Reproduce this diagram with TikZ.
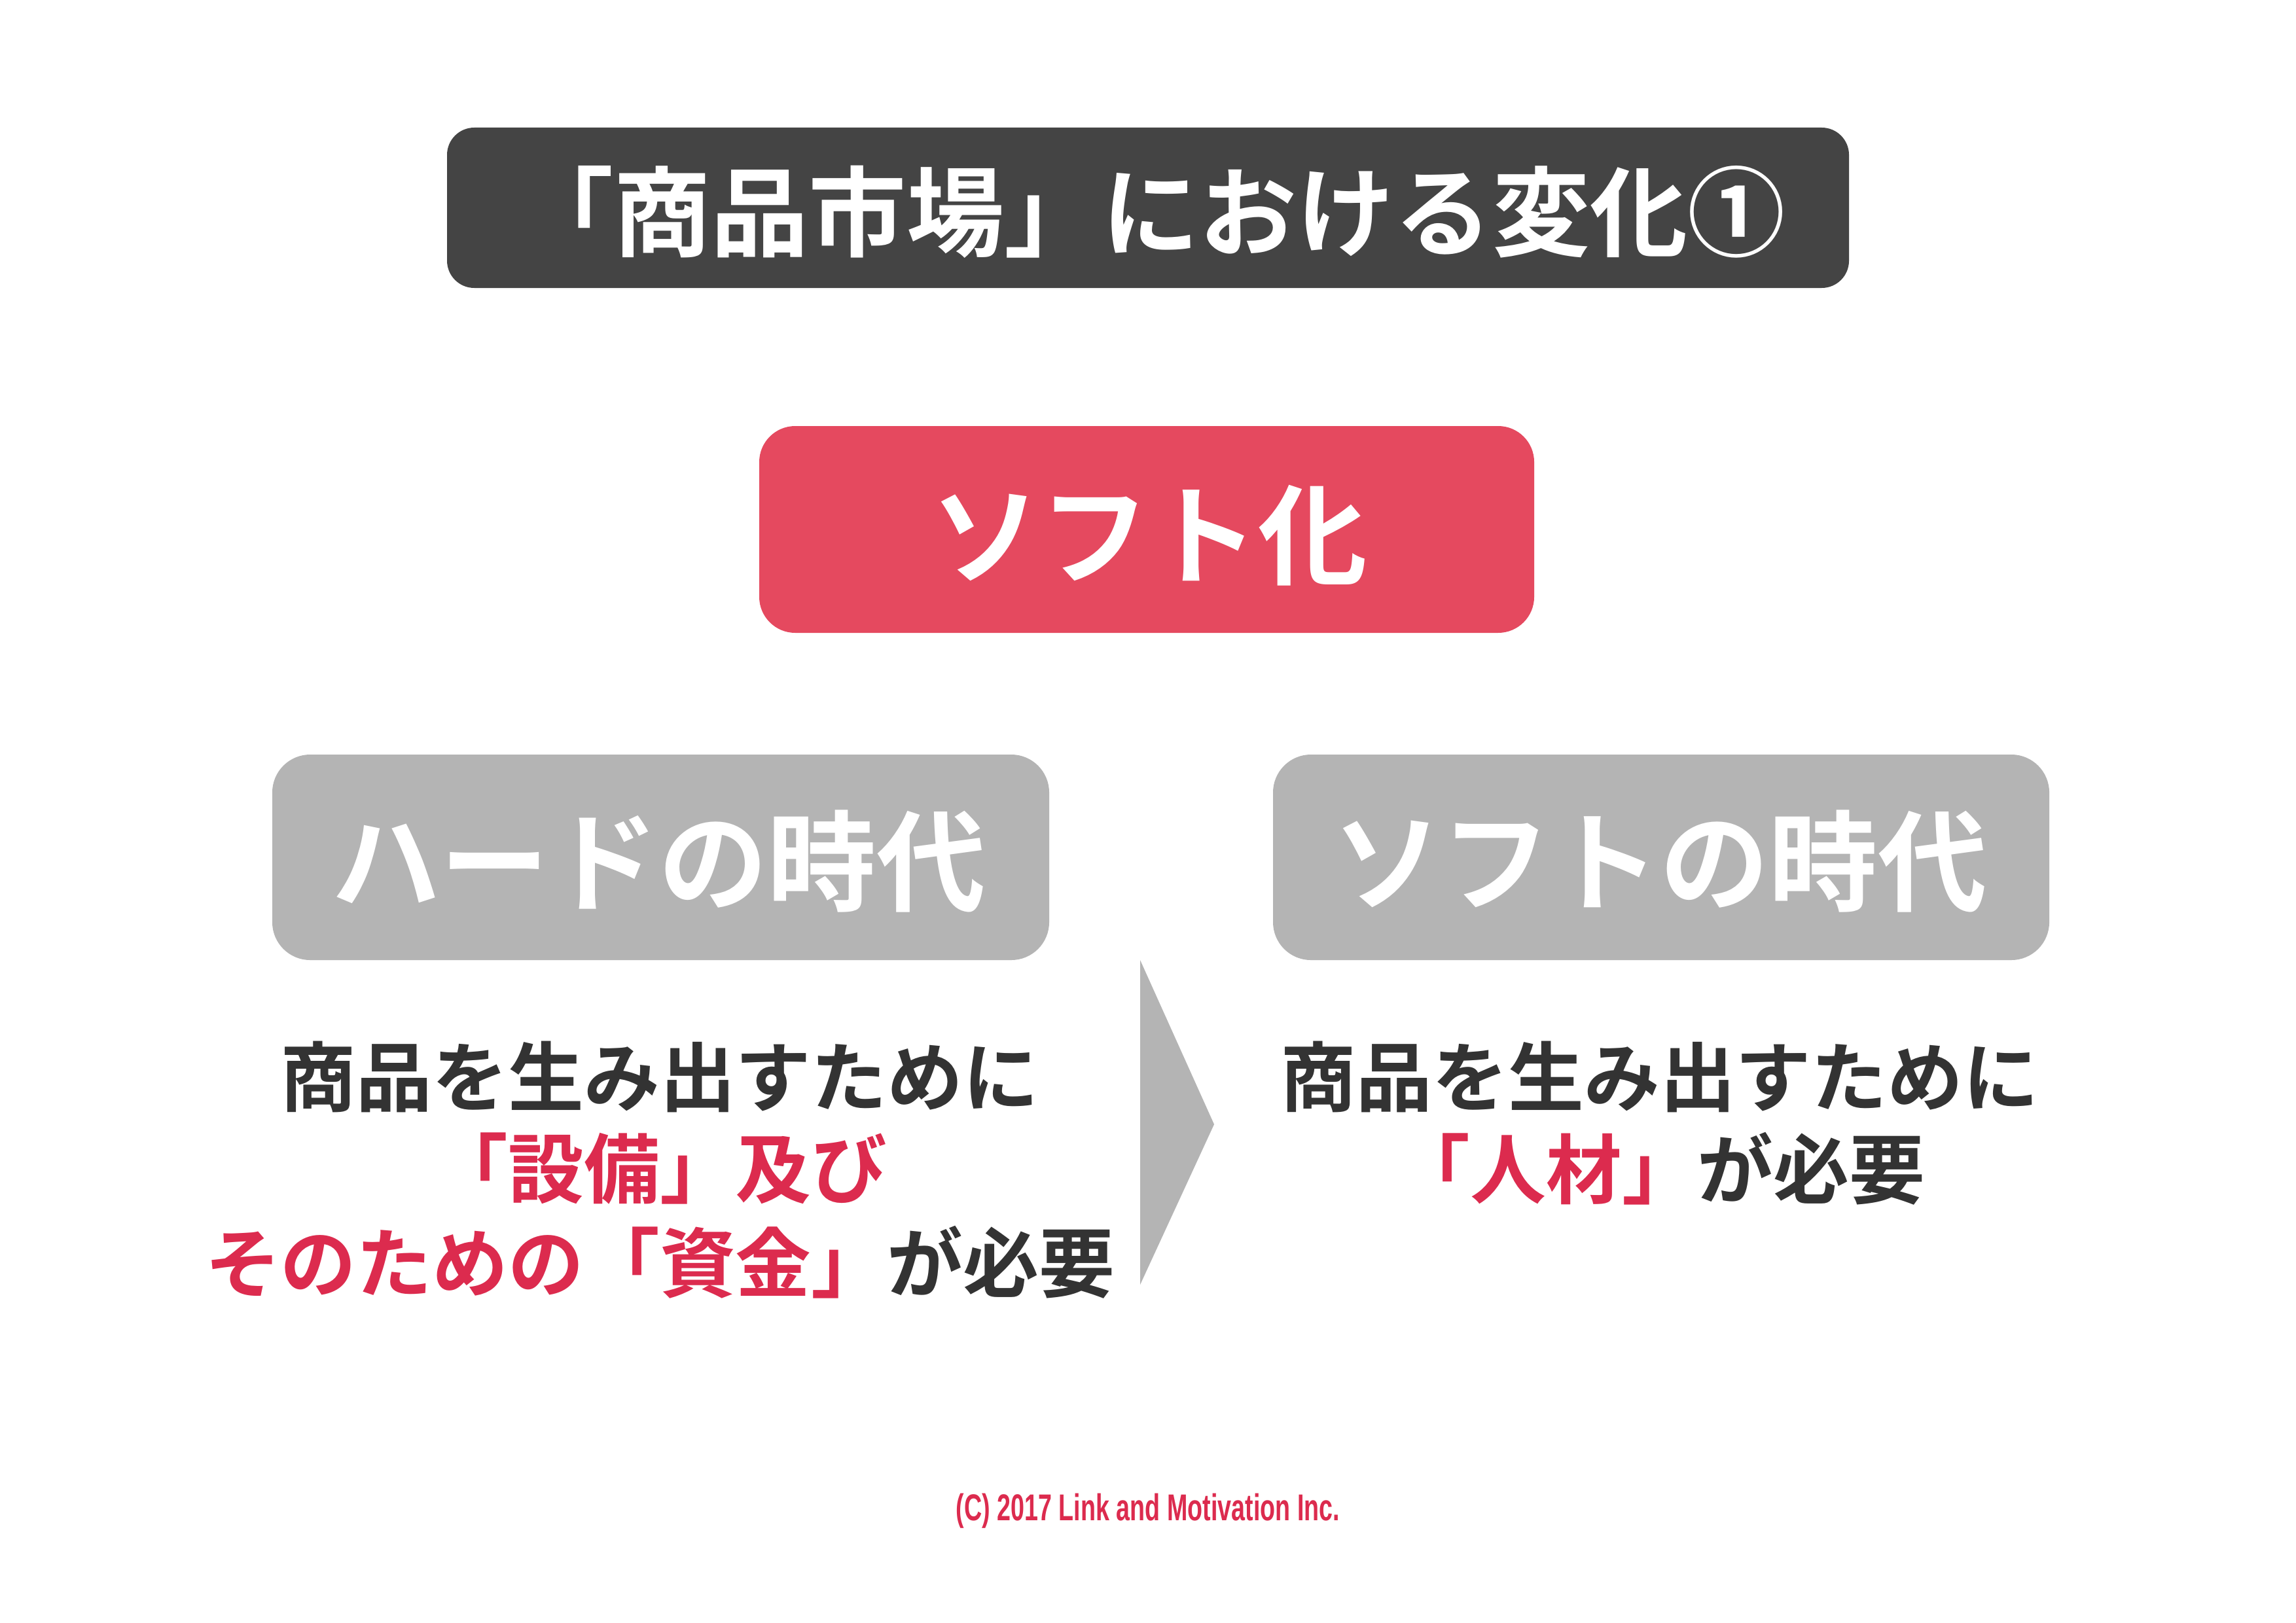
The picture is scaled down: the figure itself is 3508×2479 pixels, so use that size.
\documentclass[tikz,border=0pt]{standalone}
\usepackage{fontspec}
\setmainfont{Noto Sans CJK JP}
\newfontfamily\jpbold{Noto Sans CJK JP Bold}
\newfontfamily\cpfont[FakeStretch=0.66]{Liberation Sans Bold}
\definecolor{titlegray}{HTML}{444444}
\definecolor{boxred}{HTML}{E5495F}
\definecolor{boxgray}{HTML}{B4B4B4}
\definecolor{darktext}{HTML}{333333}
\definecolor{redtext}{HTML}{DC2B4E}
\tikzset{
  titlebox/.style={fill=titlegray, rounded corners=10pt},
  keybox/.style={fill=boxred, rounded corners=13.2pt},
  erabox/.style={fill=boxgray, rounded corners=13.9pt},
  titletext/.style={inner sep=0, text=white, font=\jpbold\fontsize{35.8}{40}\selectfont},
  labeltext/.style={inner sep=0, text=white, font=\jpbold\fontsize{40}{46}\selectfont},
  bodytext/.style={inner sep=0, text=darktext, font=\jpbold\fontsize{27.8}{32}\selectfont},
  copytext/.style={inner sep=0, text=redtext, font=\cpfont\fontsize{13.7}{16}\selectfont},
}
\begin{document}
\begin{tikzpicture}[x=0.24pt, y=-0.24pt]
\useasboundingbox[fill=white] (0,0) rectangle (3508,2479);
% title
\path[titlebox] (683,195) rectangle (2825,440);
\node[titletext] (title) at (1758,324) {「商品市場」における変化①};
% key box
\path[keybox] (1160,651) rectangle (2344,967);
\node[labeltext] (soft) at (1756,818) {ソフト化};
% era boxes
\path[erabox] (416,1153) rectangle (1603,1467);
\node[labeltext] (hard) at (1006,1316) {ハードの時代};
\path[erabox] (1945,1153) rectangle (3131,1467);
\node[labeltext] (softera) at (2536,1316) {ソフトの時代};
% arrow
\fill[boxgray] (1742,1467) -- (1855,1718) -- (1742,1963) -- cycle;
% left body
\node[bodytext] (l1) at (1008,1645) {商品を生み出すために};
\node[bodytext, text=redtext] (l2) at (1008,1786) {「設備」及び};
\node[bodytext] (l3) at (1008,1929) {\textcolor{redtext}{そのための「資金」}が必要};
% right body
\node[bodytext] (r1) at (2536,1645) {商品を生み出すために};
\node[bodytext] (r2) at (2536,1786) {\textcolor{redtext}{「人材」}が必要};
% copyright
\node[copytext, anchor=base] (copy) at (1754,2323) {(C) 2017 Link and Motivation Inc.};
\end{tikzpicture}
\end{document}
